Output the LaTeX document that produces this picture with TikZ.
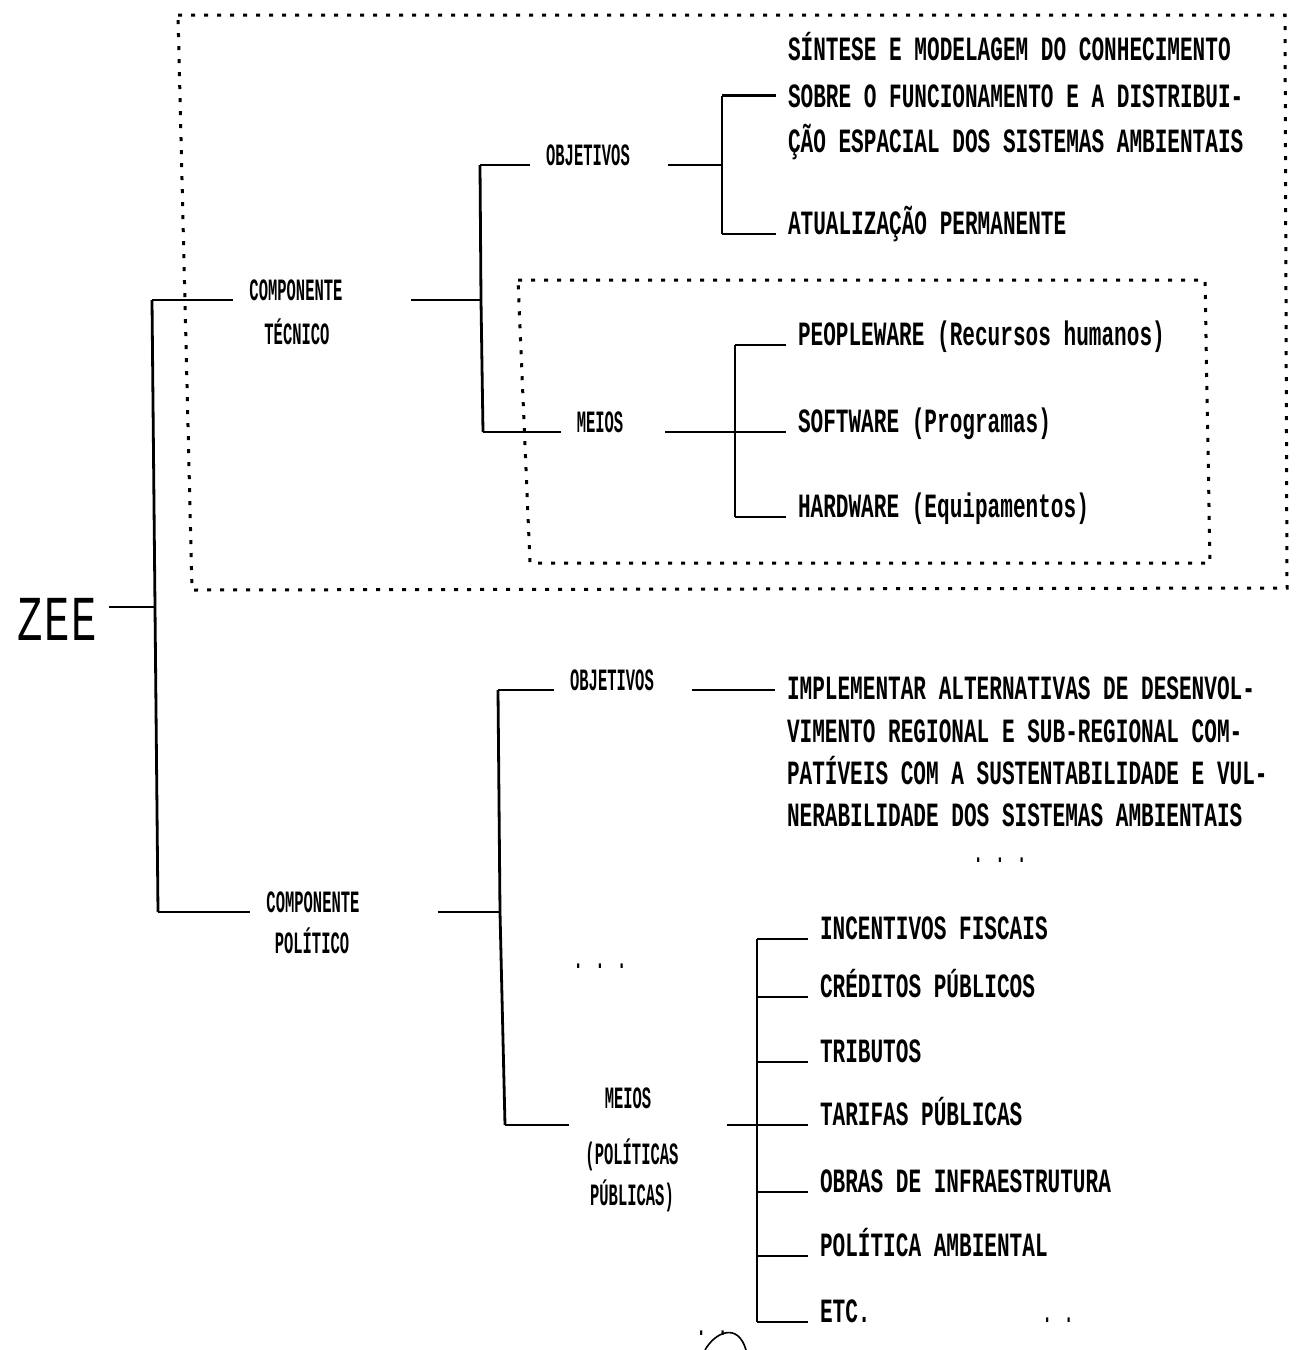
\documentclass[tikz,border=0pt]{standalone}
\usepackage{fontspec}
\newfontfamily\bigmono[FakeStretch=0.62]{Liberation Mono}
\newfontfamily\labmono[FakeStretch=0.5]{Liberation Mono}
\newfontfamily\zeemono[FakeStretch=0.66]{Liberation Mono}
\begin{document}
\begin{tikzpicture}[x=0.5pt,y=-0.5pt,
  conn/.style={line width=1.4pt},
  box/.style={line width=1.5pt,dash pattern=on 2pt off 4.5pt},
  big/.style={font=\bigmono\bfseries\fontsize{17}{20}\selectfont,anchor=base west,inner sep=0pt,outer xsep=6pt},
  lab/.style={font=\labmono\bfseries\fontsize{15.5}{18}\selectfont,anchor=base,inner sep=0pt,outer xsep=8pt},
  zeestyle/.style={font=\zeemono\fontsize{32}{34}\selectfont,anchor=base west,inner sep=0pt,outer xsep=6pt}]
\fill[white] (0,0) rectangle (1310,1350);
\useasboundingbox (0,0) rectangle (1310,1350);

% dashed frames
\draw[box] (178,15) -- (1285,15) -- (1287,588) -- (192,590) -- cycle;
\draw[box] (518,280) -- (1205,280) -- (1210,563) -- (530,563) -- cycle;

% root
\node[zeestyle] (zee) at (6,640) {Z\kern0.8pt E\kern0.8pt E};
\coordinate (vT) at (152,300);
\coordinate (vZ) at (155,607);
\coordinate (vB) at (158,912);
\draw[conn] (vT) -- (vZ) -- (vB);
\draw[conn] (zee.base east |- vZ) -- (vZ);

% componente tecnico
\node[lab] (ct1) at (296,300) {COMPONENTE};
\node[lab] (ct2) at (297,344) {TÉCNICO};
\draw[conn] (vT) -- (ct1.base west);
\coordinate (a0) at (480,165);
\coordinate (a1) at (481,300);
\coordinate (a2) at (483,432);
\draw[conn] ([xshift=26pt]ct1.base east) -- (a1);
\draw[conn] (a0) -- (a1) -- (a2);

% objetivos tecnicos
\node[lab] (ob1) at (588,165) {OBJETIVOS};
\draw[conn] (a0) -- (ob1.base west);
\coordinate (b1) at (722,165);
\draw[conn] ([xshift=11pt]ob1.base east) -- (b1);
\node[big] (s1) at (776,60) {SÍNTESE E MODELAGEM DO CONHECIMENTO};
\node[big] (s2) at (776,107) {SOBRE O FUNCIONAMENTO E A DISTRIBUI-};
\node[big] (s3) at (776,152) {ÇÃO ESPACIAL DOS SISTEMAS AMBIENTAIS};
\node[big] (at) at (776,234) {ATUALIZAÇÃO PERMANENTE};
\draw[conn] (s2.west -| b1) -- (s2.west);
\draw[conn] (at.base west -| b1) -- (at.base west);
\draw[conn] (s2.west -| b1) -- (at.base west -| b1);

% meios tecnicos
\node[lab] (me1) at (600,432) {MEIOS};
\draw[conn] (a2) -- (me1.base west);
\coordinate (c1) at (735,432);
\draw[conn] ([xshift=13pt]me1.base east) -- (c1);
\node[big] (pw) at (786,345) {PEOPLEWARE (Recursos humanos)};
\node[big] (sw) at (786,432) {SOFTWARE (Programas)};
\node[big] (hw) at (786,517) {HARDWARE (Equipamentos)};
\draw[conn] (pw.base west -| c1) -- (pw.base west);
\draw[conn] (sw.base west -| c1) -- (sw.base west);
\draw[conn] (hw.base west -| c1) -- (hw.base west);
\draw[conn] (pw.base west -| c1) -- (hw.base west -| c1);

% componente politico
\node[lab] (cp1) at (313,912) {COMPONENTE};
\node[lab] (cp2) at (312,953) {POLÍTICO};
\draw[conn] (vB) -- (cp1.base west);
\coordinate (d0) at (498,690);
\coordinate (d1) at (500,912);
\coordinate (d2) at (505,1125);
\draw[conn] ([xshift=31pt]cp1.base east) -- (d1);
\draw[conn] (d0) -- (d1) -- (d2);

% objetivos politicos
\node[lab] (ob2) at (612,690) {OBJETIVOS};
\draw[conn] (d0) -- (ob2.base west);
\node[big] (i1) at (775,699) {IMPLEMENTAR ALTERNATIVAS DE DESENVOL-};
\node[big] (i2) at (775,742) {VIMENTO REGIONAL E SUB-REGIONAL COM-};
\node[big] (i3) at (775,784) {PATÍVEIS COM A SUSTENTABILIDADE E VUL-};
\node[big] (i4) at (775,826) {NERABILIDADE DOS SISTEMAS AMBIENTAIS};
\draw[conn] ([xshift=11pt]ob2.base east) -- (ob2.base east -| i1.west);
\node[lab] (el1) at (1000,862) {.  .  .};
\node[lab] (el2) at (600,968) {.  .  .};

% meios politicos
\node[lab] (me2) at (628,1108) {MEIOS};
\node[lab] (me2b) at (632,1164) {(POLÍTICAS};
\node[lab] (me2c) at (632,1205) {PÚBLICAS)};
\coordinate (e1) at (757,1125);
\draw[conn] (d2) -- (d2 -| me2b.west);
\draw[conn] ([xshift=16pt]d2 -| me2b.east) -- (e1);
\node[big] (p1) at (808,939) {INCENTIVOS FISCAIS};
\node[big] (p2) at (808,997) {CRÉDITOS PÚBLICOS};
\node[big] (p3) at (808,1062) {TRIBUTOS};
\node[big] (p4) at (808,1125) {TARIFAS PÚBLICAS};
\node[big] (p5) at (808,1192) {OBRAS DE INFRAESTRUTURA};
\node[big] (p6) at (808,1256) {POLÍTICA AMBIENTAL};
\node[big] (p7) at (808,1322) {ETC.};
\foreach \p in {p1,p2,p3,p4,p5,p6,p7}
  \draw[conn] (\p.base west -| e1) -- (\p.base west);
\draw[conn] (p1.base west -| e1) -- (p7.base west -| e1);
\node[lab] (el3) at (1058,1322) {.  .};
\node[lab] (el4) at (712,1335) {.  .};
\draw[line width=0.8pt] (705,1350) .. controls (715,1332) and (738,1322) .. (746,1350);
\end{tikzpicture}
\end{document}
